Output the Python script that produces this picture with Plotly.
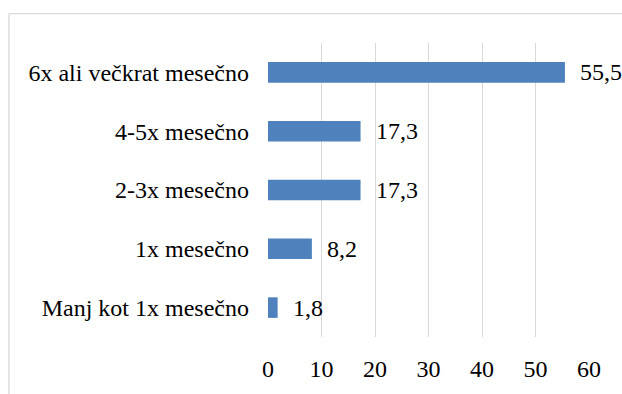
import plotly.graph_objects as go

# Frequency categories (top to bottom) and their shares in percent
categories = [
    "6x ali večkrat mesečno",
    "4-5x mesečno",
    "2-3x mesečno",
    "1x mesečno",
    "Manj kot 1x mesečno",
]
values = [55.5, 17.3, 17.3, 8.2, 1.8]
value_labels = ["55,5", "17,3", "17,3", "8,2", "1,8"]
x_ticks = [0, 10, 20, 30, 40, 50, 60]

FONT = "Liberation Serif"
FONT_SIZE = 24
BAR_COLOR = "#4F81BD"
GRID_COLOR = "#D9D9D9"

fig = go.Figure()
fig.add_trace(
    go.Bar(
        x=values,
        y=categories,
        orientation="h",
        marker=dict(color=BAR_COLOR, line=dict(width=0)),
        hoverinfo="skip",
    )
)

# Value labels placed just to the right of each bar end
for cat, val, lab in zip(categories, values, value_labels):
    fig.add_annotation(
        x=val,
        y=cat,
        text=lab,
        showarrow=False,
        xanchor="left",
        yanchor="middle",
        xshift=13,
        font=dict(family=FONT, size=FONT_SIZE, color="#000000"),
    )

# Light frame around the chart area (runs off the right and bottom edges)
fig.add_shape(type="line", xref="paper", yref="paper",
              x0=-0.807, x1=2.0, y0=1.1, y1=1.1,
              line=dict(color=GRID_COLOR, width=1.3))
fig.add_shape(type="line", xref="paper", yref="paper",
              x0=-0.807, x1=-0.807, y0=1.1, y1=-1.0,
              line=dict(color=GRID_COLOR, width=1.3))

fig.update_layout(
    width=622,
    height=394,
    margin=dict(l=268, r=33, t=43, b=51),
    paper_bgcolor="white",
    plot_bgcolor="white",
    bargap=0.65,
    showlegend=False,
    font=dict(family=FONT, size=FONT_SIZE, color="#000000"),
    xaxis=dict(
        range=[0, 60],
        tickvals=x_ticks,
        ticktext=[str(v) for v in x_ticks],
        showgrid=True,
        gridcolor=GRID_COLOR,
        gridwidth=1.3,
        zeroline=False,
        showline=False,
        ticks="",
        ticklabelstandoff=15,
        tickfont=dict(family=FONT, size=FONT_SIZE, color="#000000"),
        fixedrange=True,
    ),
    yaxis=dict(
        categoryorder="array",
        categoryarray=categories[::-1],
        showgrid=False,
        zeroline=False,
        showline=False,
        ticks="",
        ticklabelstandoff=18,
        tickfont=dict(family=FONT, size=FONT_SIZE, color="#000000"),
        fixedrange=True,
    ),
)

fig.write_html("out.html")
